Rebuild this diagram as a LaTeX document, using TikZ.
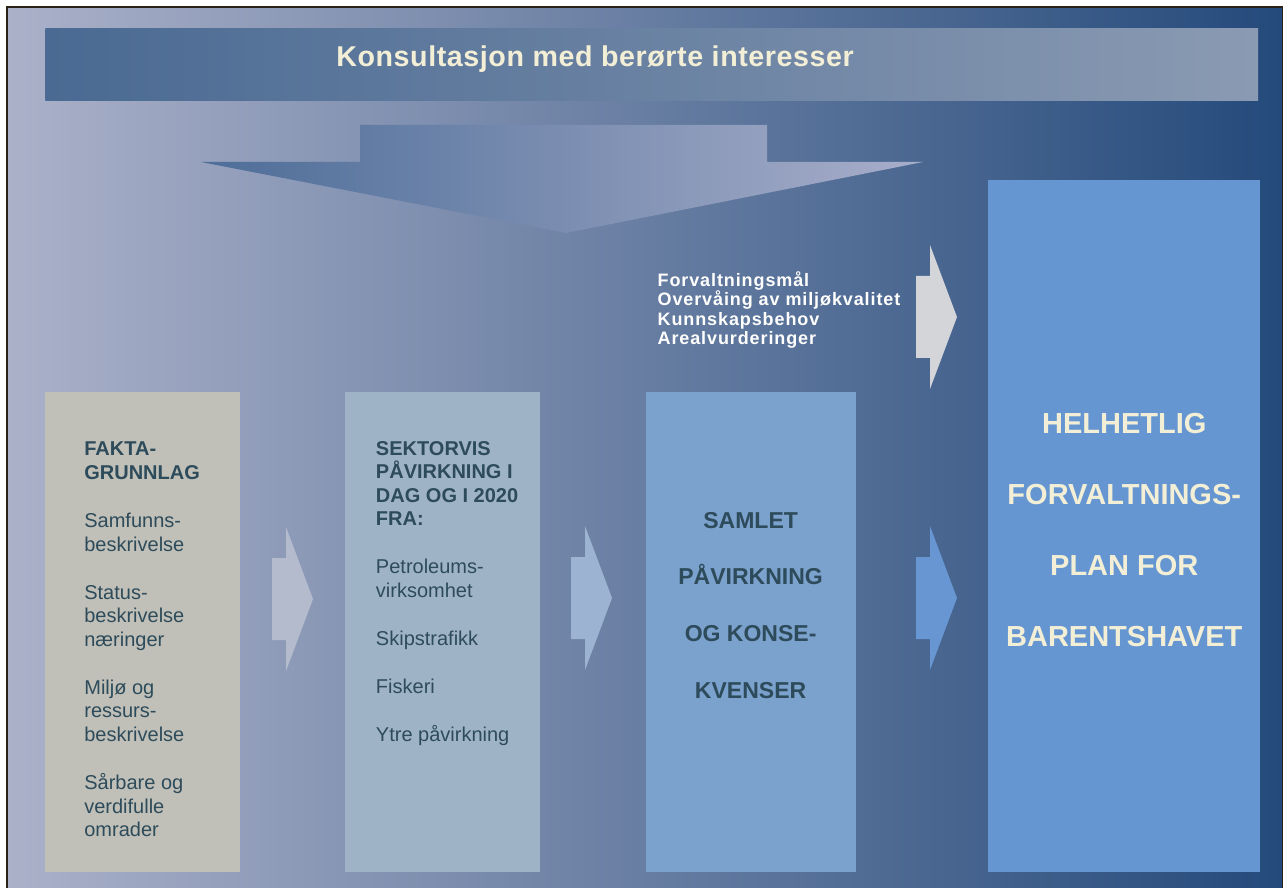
\documentclass[tikz,border=0pt]{standalone}
\usepackage{fontspec}
\setmainfont{Liberation Sans}
\newfontfamily\spacedfont[LetterSpace=5]{Liberation Sans}
\newfontfamily\titlefont[LetterSpace=2]{Liberation Sans}
\usetikzlibrary{positioning}

\definecolor{bgleft}{HTML}{ABB1C9}
\definecolor{bgright}{HTML}{244A7B}
\definecolor{bandleft}{HTML}{4A6A93}
\definecolor{bandright}{HTML}{8A9AB2}
\definecolor{downleft}{HTML}{4D6D98}
\definecolor{downright}{HTML}{A8AECA}
\definecolor{faktafill}{HTML}{C0C0B8}
\definecolor{sektorfill}{HTML}{9FB3C7}
\definecolor{samletfill}{HTML}{7BA1CD}
\definecolor{planfill}{HTML}{6596D1}
\definecolor{arrowone}{HTML}{B3BBCD}
\definecolor{arrowtwo}{HTML}{9CB4D2}
\definecolor{arrowthree}{HTML}{6796D2}
\definecolor{arrowtop}{HTML}{D3D5D9}
\definecolor{textdark}{HTML}{2D4B5A}
\definecolor{textlight}{HTML}{F3EFD6}
\definecolor{framecol}{HTML}{2A2216}

\begin{document}
\begin{tikzpicture}[
    x = 0.02cm, y = -0.02cm, % one unit per pixel, y going down
    box/.style = {draw = none, inner sep = 0pt},
    listtext/.style = {text = textdark, inner sep = 0pt, align = left,
        font = \fontsize{11.38}{13.4}\selectfont},
    bigtext/.style = {inner sep = 0pt, align = center, font = \bfseries},
    pics/blockarrow/.style = {code = {
        \fill[#1] (0,-41) -- (14,-41) -- (14,-72) -- (41,0) -- (14,72)
            -- (14,41) -- (0,41) -- cycle;
    }}
    ]

    % page and background
    \fill[white] (0,0) rectangle (1285,888);
    \useasboundingbox (0,0) rectangle (1285,888);
    \shade[left color = bgleft, right color = bgright] (7,7) rectangle (1282.5,888);
    \draw[framecol, line width = 0.035cm] (7,888) -- (7,7) -- (1282.5,7) -- (1282.5,888);

    % consultation band
    \node[box, anchor = north west, minimum width = 24.26cm, minimum height = 1.44cm,
        left color = bandleft, right color = bandright] (band) at (45,28) {};
    \node[inner sep = 0pt, anchor = base west, text = textlight,
        font = \titlefont\bfseries\fontsize{16.3}{19}\selectfont]
        (bandtext) at ([shift={(291,38.7)}]band.north west) {Konsultasjon med berørte interesser};

    % big arrow down from the band
    \shade[left color = downleft, right color = downright]
        (360,125) -- (767,125) -- (767,162) -- (923,162) -- (566,233)
        -- (201,162) -- (360,162) -- cycle;

    % the four boxes
    \node[box, anchor = north west, fill = faktafill,
        minimum width = 3.9cm, minimum height = 9.6cm] (fakta) at (45,392) {};
    \node[box, fill = sektorfill, minimum width = 3.9cm, minimum height = 9.6cm,
        right = 2.08cm of fakta] (sektor) {};
    \node[box, fill = samletfill, minimum width = 4.2cm, minimum height = 9.6cm,
        right = 2.1cm of sektor] (samlet) {};
    \node[box, fill = planfill, minimum width = 5.44cm, minimum height = 13.84cm,
        right = 2.64cm of samlet.south east, anchor = south west] (plan) {};

    % box texts
    \node[listtext, anchor = north west] (faktatext)
        at ([shift={(39,49.7)}]fakta.north west) {%
        \textbf{FAKTA-}\\ \textbf{GRUNNLAG}\\[14pt]
        Samfunns-\\ beskrivelse\\[14pt]
        Status-\\ beskrivelse\\ næringer\\[14pt]
        Miljø og\\ ressurs-\\ beskrivelse\\[14pt]
        Sårbare og\\ verdifulle\\ omrader};
    \node[listtext, anchor = north west] (sektortext)
        at ([shift={(31,48.7)}]sektor.north west) {%
        \textbf{SEKTORVIS}\\ \textbf{PÅVIRKNING I}\\ \textbf{DAG OG I 2020}\\ \textbf{FRA:}\\[14pt]
        Petroleums-\\ virksomhet\\[14pt]
        Skipstrafikk\\[14pt]
        Fiskeri\\[14pt]
        Ytre påvirkning};
    \node[bigtext, anchor = north, text = textdark, font = \bfseries\fontsize{13.1}{32.2}\selectfont]
        (samlettext) at ([shift={(0,120)}]samlet.north) {%
        SAMLET\\ PÅVIRKNING\\ OG KONSE-\\ KVENSER};
    \node[bigtext, anchor = north, text = textlight, font = \bfseries\fontsize{16.5}{40.4}\selectfont]
        (plantext) at ([shift={(0,233)}]plan.north) {%
        HELHETLIG\\ FORVALTNINGS-\\ PLAN FOR\\ BARENTSHAVET};

    % goals above the third box
    \node[inner sep = 0pt, anchor = north west, align = left, text = white!95!textlight,
        font = \spacedfont\bfseries\fontsize{10.24}{11}\selectfont]
        (goals) at ([shift={(12,-120.5)}]samlet.north west) {%
        Forvaltningsmål\\ Overvåing av miljøkvalitet\\ Kunnskapsbehov\\ Arealvurderinger};

    % block arrows between the boxes
    \pic at (272,599) {blockarrow = arrowone};
    \pic at (571,598) {blockarrow = arrowtwo};
    \pic at (916,598) {blockarrow = arrowthree};
    \pic at (916,317) {blockarrow = arrowtop};
\end{tikzpicture}
\end{document}
